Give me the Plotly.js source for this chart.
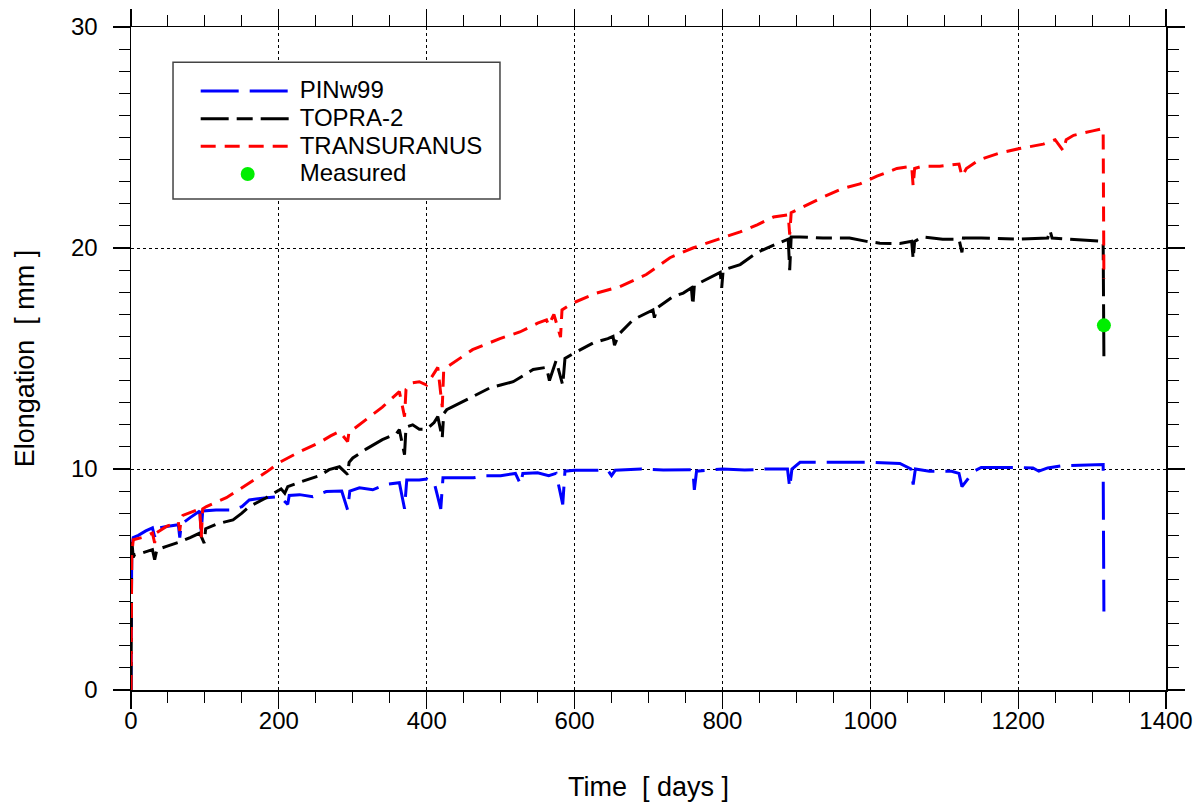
<!DOCTYPE html>
<html>
<head>
<meta charset="utf-8">
<script src="https://cdn.plot.ly/plotly-3.0.1.min.js"></script>
<style>html,body{margin:0;padding:0;background:#fff;}#chart{width:1199px;height:802px;}</style>
</head>
<body>
<div id="chart"></div>
<script>
// PINw99
const pinDays = [0,1,3,10,20,29,32,34,48,64,66,68,80,93,95,97,115,138,150,160,183,201,212,214,228,246,264,285,293,296,309,327,345,363,370,373,390,400,410,419,422,440,463,480,500,520,527,530,550,565,575,584,587,600,620,645,650,655,690,720,760,762,765,800,830,860,888,891,894,905,960,975,1000,1040,1055,1058,1061,1080,1110,1120,1124,1140,1150,1200,1220,1228,1240,1260,1300,1315,1316];
const pinVals = [0,6.4,6.9,7.0,7.2,7.34,6.93,7.3,7.4,7.48,6.9,7.5,7.8,8.1,7.15,8.1,8.15,8.15,8.3,8.6,8.7,8.75,8.4,8.8,8.84,8.75,8.98,9.0,8.15,9.0,9.15,9.06,9.3,9.38,8.2,9.5,9.5,9.55,9.4,8.2,9.6,9.6,9.6,9.7,9.7,9.8,9.3,9.8,9.83,9.7,9.8,8.4,9.9,9.94,9.94,9.94,9.7,9.94,10.0,9.95,9.97,9.06,9.9,10.0,9.95,10.0,10.0,9.15,10.0,10.3,10.3,10.3,10.3,10.25,10.0,9.3,10.0,9.9,9.9,9.8,9.2,9.9,10.07,10.07,10.05,9.9,10.05,10.15,10.2,10.2,3.55];

// TOPRA-2
const topDays = [0,1,3,5,15,29,32,35,48,66,80,93,99,101,115,138,150,160,183,203,208,212,228,255,268,282,293,295,300,318,340,359,363,370,372,381,390,400,410,415,421,423,427,462,486,500,517,544,562,566,575,584,587,597,625,645,652,654,660,679,706,708,712,733,747,758,760,762,773,797,799,801,824,835,847,864,882,889,891,893,905,936,972,995,1013,1040,1056,1058,1060,1071,1098,1120,1124,1126,1150,1200,1240,1243,1246,1270,1290,1315,1316];
const topVals = [0,6.8,6.0,6.13,6.2,6.35,5.9,6.35,6.5,6.7,6.9,7.1,6.65,7.3,7.5,7.7,8.0,8.3,8.7,9.1,8.9,9.2,9.4,9.7,9.97,10.1,9.75,10.3,10.5,10.9,11.33,11.6,11.78,10.65,11.9,12.0,11.8,11.8,12.1,12.37,11.4,12.5,12.68,13.27,13.68,13.8,13.95,14.5,14.6,14.0,14.9,13.8,15.0,15.2,15.7,15.9,16.0,15.6,16.1,16.75,17.2,16.85,17.3,17.8,17.96,18.2,17.4,18.3,18.5,18.9,18.2,19.0,19.25,19.5,19.8,20.05,20.3,20.4,19.0,20.5,20.5,20.45,20.45,20.3,20.22,20.2,20.3,19.5,20.3,20.5,20.4,20.4,19.8,20.45,20.45,20.4,20.45,20.8,20.45,20.4,20.35,20.3,15.1];

// TRANSURANUS
const truDays = [0,1,3,15,29,32,34,48,64,66,68,70,93,95,97,102,129,160,183,201,228,255,270,282,293,295,300,340,363,370,372,381,390,400,408,415,421,423,427,462,499,526,550,562,565,572,581,583,597,630,661,697,729,760,792,824,847,869,889,891,893,909,936,963,986,1009,1036,1056,1058,1060,1071,1094,1120,1124,1130,1148,1175,1202,1234,1250,1261,1265,1275,1301,1315,1316];
const truVals = [0,6.1,6.8,6.9,7.1,6.65,7.1,7.4,7.6,7.2,7.8,7.9,8.2,6.9,8.2,8.3,8.7,9.38,9.86,10.3,10.78,11.2,11.5,11.7,11.24,11.7,11.78,12.8,13.5,12.37,13.6,13.9,13.95,13.8,14.2,14.6,12.8,14.5,14.6,15.4,15.9,16.2,16.6,16.75,16.5,17.0,15.97,17.2,17.5,17.96,18.25,18.8,19.56,20.0,20.37,20.73,21.05,21.4,21.5,20.6,21.6,21.86,22.3,22.7,22.9,23.25,23.6,23.7,22.8,23.6,23.7,23.7,23.8,23.25,23.6,24.0,24.3,24.5,24.7,24.9,24.4,24.9,25.1,25.3,25.4,18.6];

// Measured
const measDays = [1316];
const measVals = [16.5];

const seriesNames = ['PINw99','TOPRA-2','TRANSURANUS','Measured'];
const xTickVals = [0,200,400,600,800,1000,1200,1400];
const yTickVals = [0,10,20,30];

const FONT = 'Liberation Sans, Arial, Helvetica, sans-serif';
const legendName = n => '<span style="font-size:24px">' + n + '</span>';

const traces = [
  {x: pinDays, y: pinVals, name: legendName(seriesNames[0]), type: 'scatter', mode: 'lines',
   line: {color: '#0000ff', width: 3, dash: '38px,11px'}},
  {x: topDays, y: topVals, name: legendName(seriesNames[1]), type: 'scatter', mode: 'lines',
   line: {color: '#000000', width: 3, dash: '28px,8px,16px,8px'}},
  {x: truDays, y: truVals, name: legendName(seriesNames[2]), type: 'scatter', mode: 'lines',
   line: {color: '#ff0000', width: 3, dash: '15px,9px'}},
  {x: measDays, y: measVals, name: legendName(seriesNames[3]), type: 'scatter', mode: 'markers',
   marker: {color: '#00ee00', size: 14}}
];

const axisCommon = {
  showline: true, linecolor: '#000', linewidth: 1.5, mirror: 'ticks',
  ticks: 'outside', ticklen: 17, tickwidth: 1.2, tickcolor: '#000',
  showgrid: true, gridcolor: '#000', gridwidth: 1, griddash: '3px,3px',
  zeroline: false, tickfont: {family: FONT, size: 24, color: '#000'}
};

const layout = {
  width: 1199, height: 802,
  margin: {l: 131, r: 33, t: 27, b: 112},
  paper_bgcolor: '#fff', plot_bgcolor: '#fff',
  font: {family: FONT, color: '#000'},
  showlegend: true,
  xaxis: Object.assign({}, axisCommon, {
    range: [0, 1400], tickvals: xTickVals, ticklabelstandoff: -8,
    minor: {dtick: 50, tick0: 0, ticks: 'outside', ticklen: 11, tickwidth: 1, tickcolor: '#000', showgrid: false},
    title: {text: 'Time  [ days ]', font: {family: FONT, size: 27, color: '#000'}, standoff: 44}
  }),
  yaxis: Object.assign({}, axisCommon, {
    range: [0, 30], tickvals: yTickVals, ticklabelstandoff: 10,
    minor: {dtick: 1, tick0: 0, ticks: 'outside', ticklen: 11, tickwidth: 1, tickcolor: '#000', showgrid: false},
    title: {text: 'Elongation  [ mm ]', font: {family: FONT, size: 27, color: '#000'}, standoff: 28}
  }),
  legend: {
    x: 0.0625, y: 0.932, xanchor: 'left', yanchor: 'top',
    bgcolor: 'rgba(0,0,0,0)', borderwidth: 0,
    font: {family: FONT, size: 19, color: '#000'},
    itemwidth: 94
  },
  shapes: [
    {type: 'rect', xref: 'paper', yref: 'paper', x0: 0.0406, x1: 0.3565, y0: 0.7406, y1: 0.947,
     line: {color: '#444', width: 1.5}, fillcolor: '#fff', layer: 'above'}
  ]
};

Plotly.newPlot('chart', traces, layout, {displayModeBar: false, staticPlot: true});
</script>
</body>
</html>
